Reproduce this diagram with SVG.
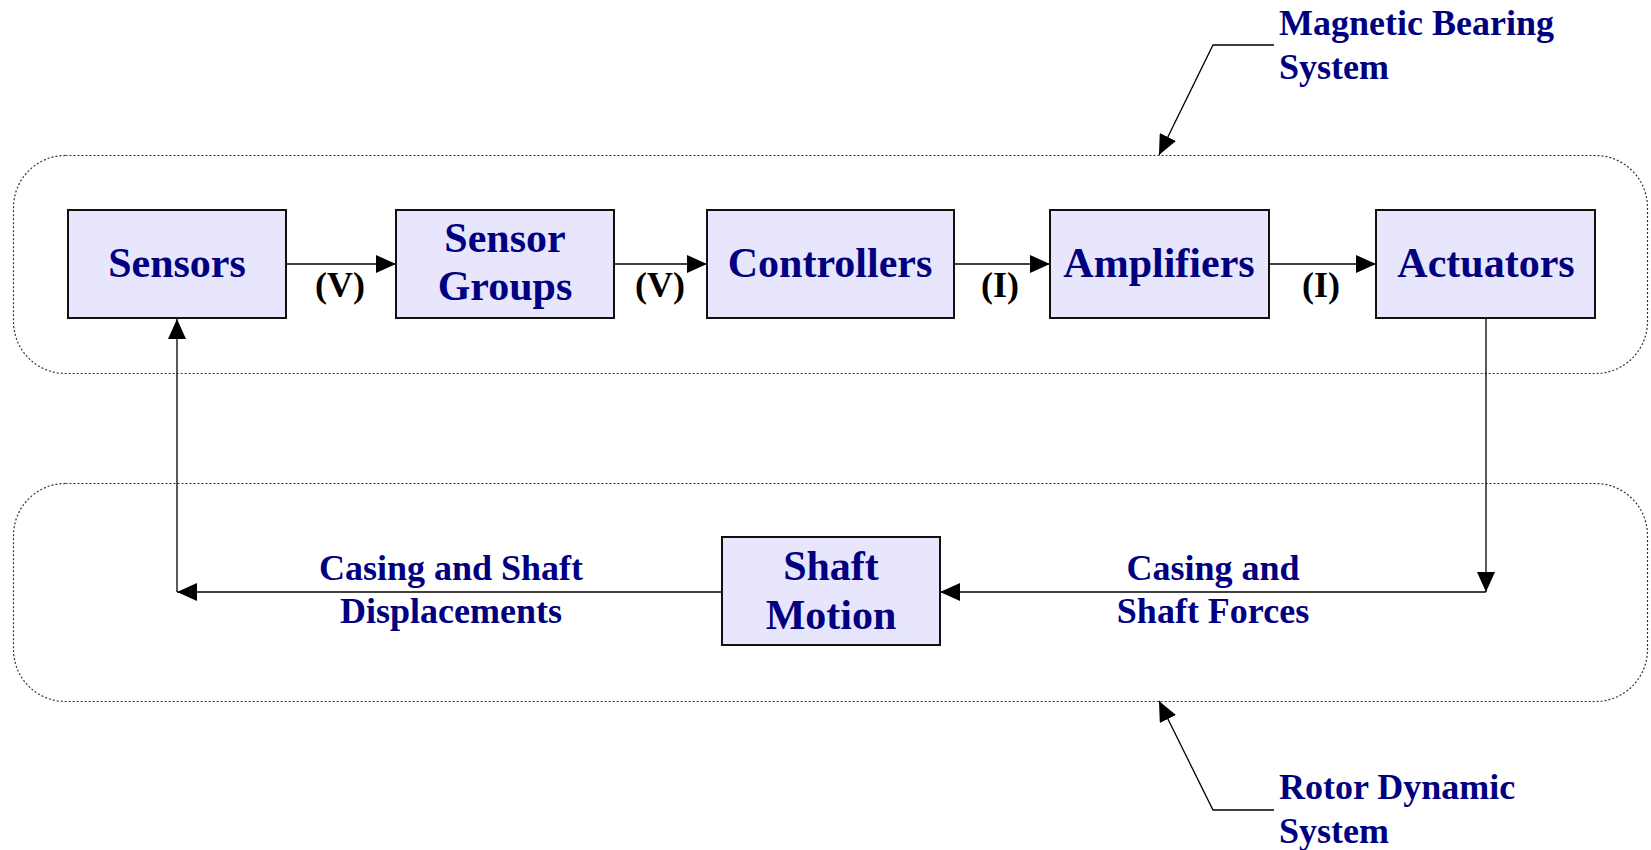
<svg xmlns="http://www.w3.org/2000/svg" width="1651" height="850" viewBox="0 0 1651 850">
<defs>
<marker id="ah" viewBox="0 0 20 18" refX="20" refY="9" markerWidth="20" markerHeight="18" markerUnits="userSpaceOnUse" orient="auto">
<path d="M0,0 L20,9 L0,18 Z" fill="#000"/>
</marker>
</defs>
<style>
.grp{fill:none;stroke:#333;stroke-width:1.2;stroke-dasharray:2,2}
.box{fill:#e8e6fc;stroke:#111;stroke-width:2}
.nl{font-family:"Liberation Serif",serif;font-weight:bold;font-size:42px;fill:#000080;text-anchor:middle}
.el{font-family:"Liberation Serif",serif;font-weight:bold;font-size:36px;fill:#000080;text-anchor:middle}
.vl{font-family:"Liberation Serif",serif;font-weight:bold;font-size:36px;fill:#000;text-anchor:middle}
.gl{font-family:"Liberation Serif",serif;font-weight:bold;font-size:36px;fill:#000080}
.c{fill:none;stroke:#000;stroke-width:1.3;marker-end:url(#ah)}
</style>
<rect width="1651" height="850" fill="#fff"/>
<g id="groups">
<rect id="magnetic-bearing-system" class="grp" x="13.5" y="155.5" width="1634" height="218" rx="52" ry="52"/>
<rect id="rotor-dynamic-system" class="grp" x="13.5" y="483.5" width="1634" height="218" rx="52" ry="52"/>
</g>
<g id="connectors">
<line class="c" x1="286" y1="264" x2="396" y2="264"/>
<line class="c" x1="614" y1="264" x2="707" y2="264"/>
<line class="c" x1="954" y1="264" x2="1050" y2="264"/>
<line class="c" x1="1269" y1="264" x2="1376" y2="264"/>
<line class="c" x1="1486" y1="319" x2="1486" y2="592"/>
<line class="c" x1="1486" y1="592" x2="940" y2="592"/>
<line class="c" x1="722" y1="592" x2="177" y2="592"/>
<line class="c" x1="177" y1="592" x2="177" y2="319"/>
<polyline class="c" points="1274,45 1213,45 1159,155"/>
<polyline class="c" points="1274,810 1213,810 1159,701"/>
<text class="vl" x="340" y="297">(V)</text>
<text class="vl" x="660" y="297">(V)</text>
<text class="vl" x="1000" y="297">(I)</text>
<text class="vl" x="1321" y="297">(I)</text>
<text class="el" x="451" y="580">Casing and Shaft</text>
<text class="el" x="451" y="623">Displacements</text>
<text class="el" x="1213" y="580">Casing and</text>
<text class="el" x="1213" y="623">Shaft Forces</text>
</g>
<g id="sensors"><rect class="box" x="68" y="210" width="218" height="108"/><text class="nl" x="177" y="277">Sensors</text></g>
<g id="sensor-groups"><rect class="box" x="396" y="210" width="218" height="108"/><text class="nl" x="505" y="252">Sensor</text><text class="nl" x="505" y="300">Groups</text></g>
<g id="controllers"><rect class="box" x="707" y="210" width="247" height="108"/><text class="nl" x="830" y="277">Controllers</text></g>
<g id="amplifiers"><rect class="box" x="1050" y="210" width="219" height="108"/><text class="nl" x="1159" y="277">Amplifiers</text></g>
<g id="actuators"><rect class="box" x="1376" y="210" width="219" height="108"/><text class="nl" x="1486" y="277">Actuators</text></g>
<g id="shaft-motion"><rect class="box" x="722" y="537" width="218" height="108"/><text class="nl" x="831" y="580">Shaft</text><text class="nl" x="831" y="629">Motion</text></g>
<g id="label-mbs"><text class="gl" x="1279" y="35">Magnetic Bearing</text><text class="gl" x="1279" y="79">System</text></g>
<g id="label-rds"><text class="gl" x="1279" y="799">Rotor Dynamic</text><text class="gl" x="1279" y="843">System</text></g>
</svg>
